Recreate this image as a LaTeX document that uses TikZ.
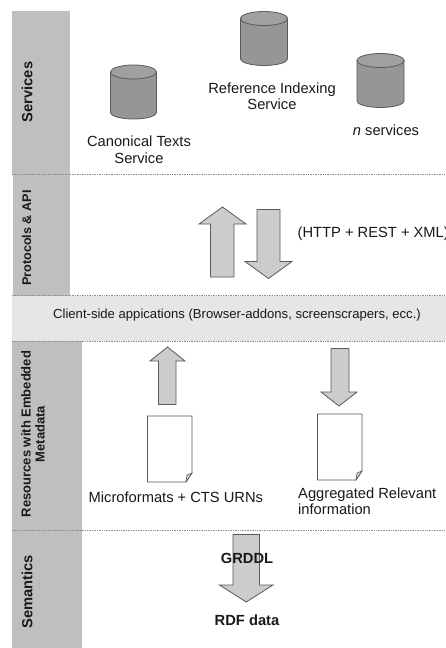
\documentclass[tikz,border=0pt]{standalone}
\usepackage{fontspec}
\setmainfont{Liberation Sans}
\definecolor{bandgray}{HTML}{BFBFBF}
\definecolor{clientgray}{HTML}{E6E6E6}
\definecolor{cylbody}{HTML}{969696}
\definecolor{cyltop}{HTML}{A0A0A0}
\definecolor{arrowgray}{HTML}{CCCCCC}
\definecolor{edgegray}{HTML}{5A5A5A}
\tikzset{
  band/.style={fill=bandgray,draw=none},
  sep/.style={draw=gray!90,line width=0.7pt,densely dotted},
  blockarrow/.style={fill=arrowgray,draw=edgegray,line width=0.8pt,line join=miter},
  cyl/.style={fill=cylbody,draw=edgegray,line width=0.8pt},
  cyltopstyle/.style={fill=cyltop,draw=edgegray,line width=0.8pt},
  docpage/.style={fill=white,draw=edgegray,line width=0.8pt},
  lbl/.style={font=\fontsize{14.7}{16.5}\selectfont,align=center,inner sep=0pt,text=black!90},
  lbll/.style={lbl,align=left,anchor=west},
  side/.style={font=\fontsize{14.7}{14.5}\selectfont\bfseries,align=center,inner sep=0pt,rotate=90,text=black!90},
  bold/.style={font=\fontsize{14.7}{16}\selectfont\bfseries,inner sep=0pt,text=black!90}
}
% cylinder: left, top, right, bottom
\newcommand{\cyldraw}[4]{%
  \draw[cyl] (#1,#2+7) -- (#1,#4-7) .. controls (#1,#4+2.3) and (#3,#4+2.3) .. (#3,#4-7) -- (#3,#2+7) -- cycle;
  \draw[cyltopstyle] ({(#1+#3)/2},#2+7) ellipse[x radius={(#3-#1)/2},y radius=7];
}
% up arrow: head left, shaft left, shaft right, head right, tip y, head base y, bottom y
\newcommand{\vertarrow}[7]{%
  \draw[blockarrow] ({(#1+#4)/2},#5) -- (#4,#6) -- (#3,#6) -- (#3,#7) -- (#2,#7) -- (#2,#6) -- (#1,#6) -- cycle;
}
% page: left, top, right, bottom
\newcommand{\docdraw}[4]{%
  \draw[docpage] (#1,#2) -- (#3,#2) -- (#3,#4-9) -- (#3-6,#4) -- (#1,#4) -- cycle;
  \draw[fill=arrowgray,draw=edgegray,line width=0.6pt] (#3,#4-9) -- (#3-6,#4) -- (#3-5,#4-7) -- cycle;
}
\begin{document}
\begin{tikzpicture}[x=1pt,y=-1pt]
\useasboundingbox (0,0) rectangle (446,648);
\clip (0,0) rectangle (446,648);
\fill[white] (0,0) rectangle (446,648);
% bands
\fill[band] (12,11) rectangle (70,174);
\fill[band] (13,174) rectangle (70,296);
\fill[clientgray] (12,296) rectangle (446,341);
\fill[band] (12,341) rectangle (82,530);
\fill[band] (12,530) rectangle (82,648);
% separators
\coordinate (s1a) at (12,174); \coordinate (s1b) at (446,174);
\coordinate (s2a) at (12,295.5); \coordinate (s2b) at (446,295.5);
\coordinate (s3a) at (12,341); \coordinate (s3b) at (446,341);
\coordinate (s4a) at (12,530); \coordinate (s4b) at (446,530);
\draw[sep] (s1a) -- (s1b);
\draw[sep] (s2a) -- (s2b);
\draw[sep] (s3a) -- (s3b);
\draw[sep] (s4a) -- (s4b);
% side labels
\node[side] (lservices) at (27,92) {Services};
\node[side,font=\fontsize{12.6}{14}\selectfont\bfseries] (lprotocols) at (26.5,238) {Protocols \& API};
\node[side,font=\fontsize{13}{14}\selectfont\bfseries] (lresources) at (33,434) {Resources with Embedded\\Metadata};
\node[side] (lsemantics) at (27,592) {Semantics};
% cylinders
\cyldraw{110.5}{65}{156.5}{119}
\cyldraw{240.5}{11.5}{287.5}{65.5}
\cyldraw{357}{53.5}{404}{107.5}
% service labels
\node[lbl] (canon) at (139,149.5) {Canonical Texts\\Service};
\node[lbl] (refidx) at (272,96) {Reference Indexing\\Service};
\node[lbl] (nserv) at (386,130) {\textit{n} services};
% protocol arrows
\vertarrow{199}{210.5}{234}{246}{207}{224}{277}
\vertarrow{292}{280}{257}{245}{278.5}{261.5}{209.5}
\node[lbll] (proto) at (297.5,234) {(HTTP + REST + XML)};
% client band
\node[lbl,font=\fontsize{13.1}{14}\selectfont] (client) at (237,315) {Client-side appications (Browser-addons, screenscrapers, ecc.)};
% resource arrows and pages
\vertarrow{150}{158.5}{176}{185}{347}{361}{404.5}
\vertarrow{357}{349}{331}{321}{406}{392}{348.5}
\docdraw{147.5}{416}{192}{482}
\docdraw{317.5}{414}{362}{480}
\node[lbll] (micro) at (88.5,497.5) {Microformats + CTS URNs};
\node[lbll] (aggr) at (298,501) {Aggregated Relevant\\information};
% semantics
\vertarrow{273}{259.5}{233}{219.5}{602}{585}{534.5}
\node[bold] (grddl) at (247,558) {GRDDL};
\node[bold] (rdf) at (247,620) {RDF data};
\end{tikzpicture}
\end{document}
